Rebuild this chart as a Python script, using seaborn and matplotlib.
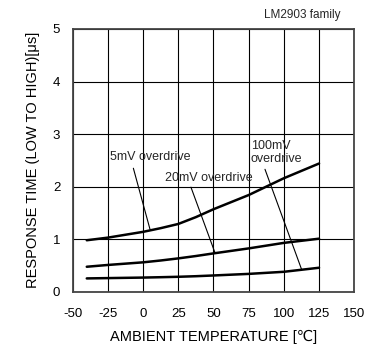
import pandas as pd
import matplotlib
matplotlib.use("Agg")
import matplotlib.pyplot as plt
import seaborn as sns

# data
temps = [-40, -25, 0, 12.5, 25, 37.5, 50, 75, 100, 125]
t_5mv = [0.98, 1.03, 1.14, 1.21, 1.29, 1.42, 1.57, 1.84, 2.16, 2.44]
t_20mv = [0.476, 0.51, 0.56, 0.595, 0.635, 0.68, 0.73, 0.825, 0.93, 1.01]
t_100mv = [0.254, 0.26, 0.27, 0.277, 0.285, 0.296, 0.31, 0.34, 0.38, 0.457]
xticks = [-50, -25, 0, 25, 50, 75, 100, 125, 150]
yticks = [0, 1, 2, 3, 4, 5]

df = pd.DataFrame({
    "temp": temps * 3,
    "time": t_5mv + t_20mv + t_100mv,
    "series": ["5mV"] * len(temps) + ["20mV"] * len(temps) + ["100mV"] * len(temps),
})

sns.set_theme(style="white")
plt.rcParams["font.family"] = ["Liberation Sans", "DejaVu Sans"]
plt.rcParams["axes.unicode_minus"] = False

fig = plt.figure(figsize=(3.69, 3.49), dpi=100)
ax = fig.add_axes([0.197, 0.164, 0.763, 0.753])

sns.lineplot(data=df, x="temp", y="time", units="series", estimator=None,
             color="black", linewidth=1.8, ax=ax, legend=False)

ax.set_xlim(-50, 150)
ax.set_ylim(0, 5)
ax.set_xticks(xticks)
ax.set_yticks(yticks)
ax.grid(True, color="black", linewidth=0.8)
ax.tick_params(axis="x", length=0, labelsize=9.5, colors="black", pad=12)
ax.tick_params(axis="y", length=0, labelsize=9.5, colors="black", pad=9)
for s in ax.spines.values():
    s.set_color("#444444")
    s.set_linewidth(1.3)

ax.set_xlabel("AMBIENT TEMPERATURE [\u2103]", fontsize=10.5, color="black", labelpad=7)
ax.set_ylabel("RESPONSE TIME (LOW TO HIGH)[\u03bcs]", fontsize=10.5, color="black", labelpad=9)

# annotations
ax.plot([-6.9, 4.9], [2.35, 1.19], color="black", linewidth=0.8)
ax.text(-23.5, 2.56, "5mV overdrive", fontsize=9, va="center", ha="left")
ax.plot([34.0, 51.1], [1.99, 0.74], color="black", linewidth=0.8)
ax.text(15.5, 2.17, "20mV overdrive", fontsize=9, va="center", ha="left")
ax.plot([86.6, 112.6], [2.33, 0.425], color="black", linewidth=0.8)
ax.text(76.4, 2.65, "100mV\noverdrive", fontsize=9, va="center", ha="left", linespacing=1.05)

fig.text(0.818, 0.957, "LM2903 family", fontsize=8.5, ha="center", va="center")

fig.savefig("out.png", dpi=100)
